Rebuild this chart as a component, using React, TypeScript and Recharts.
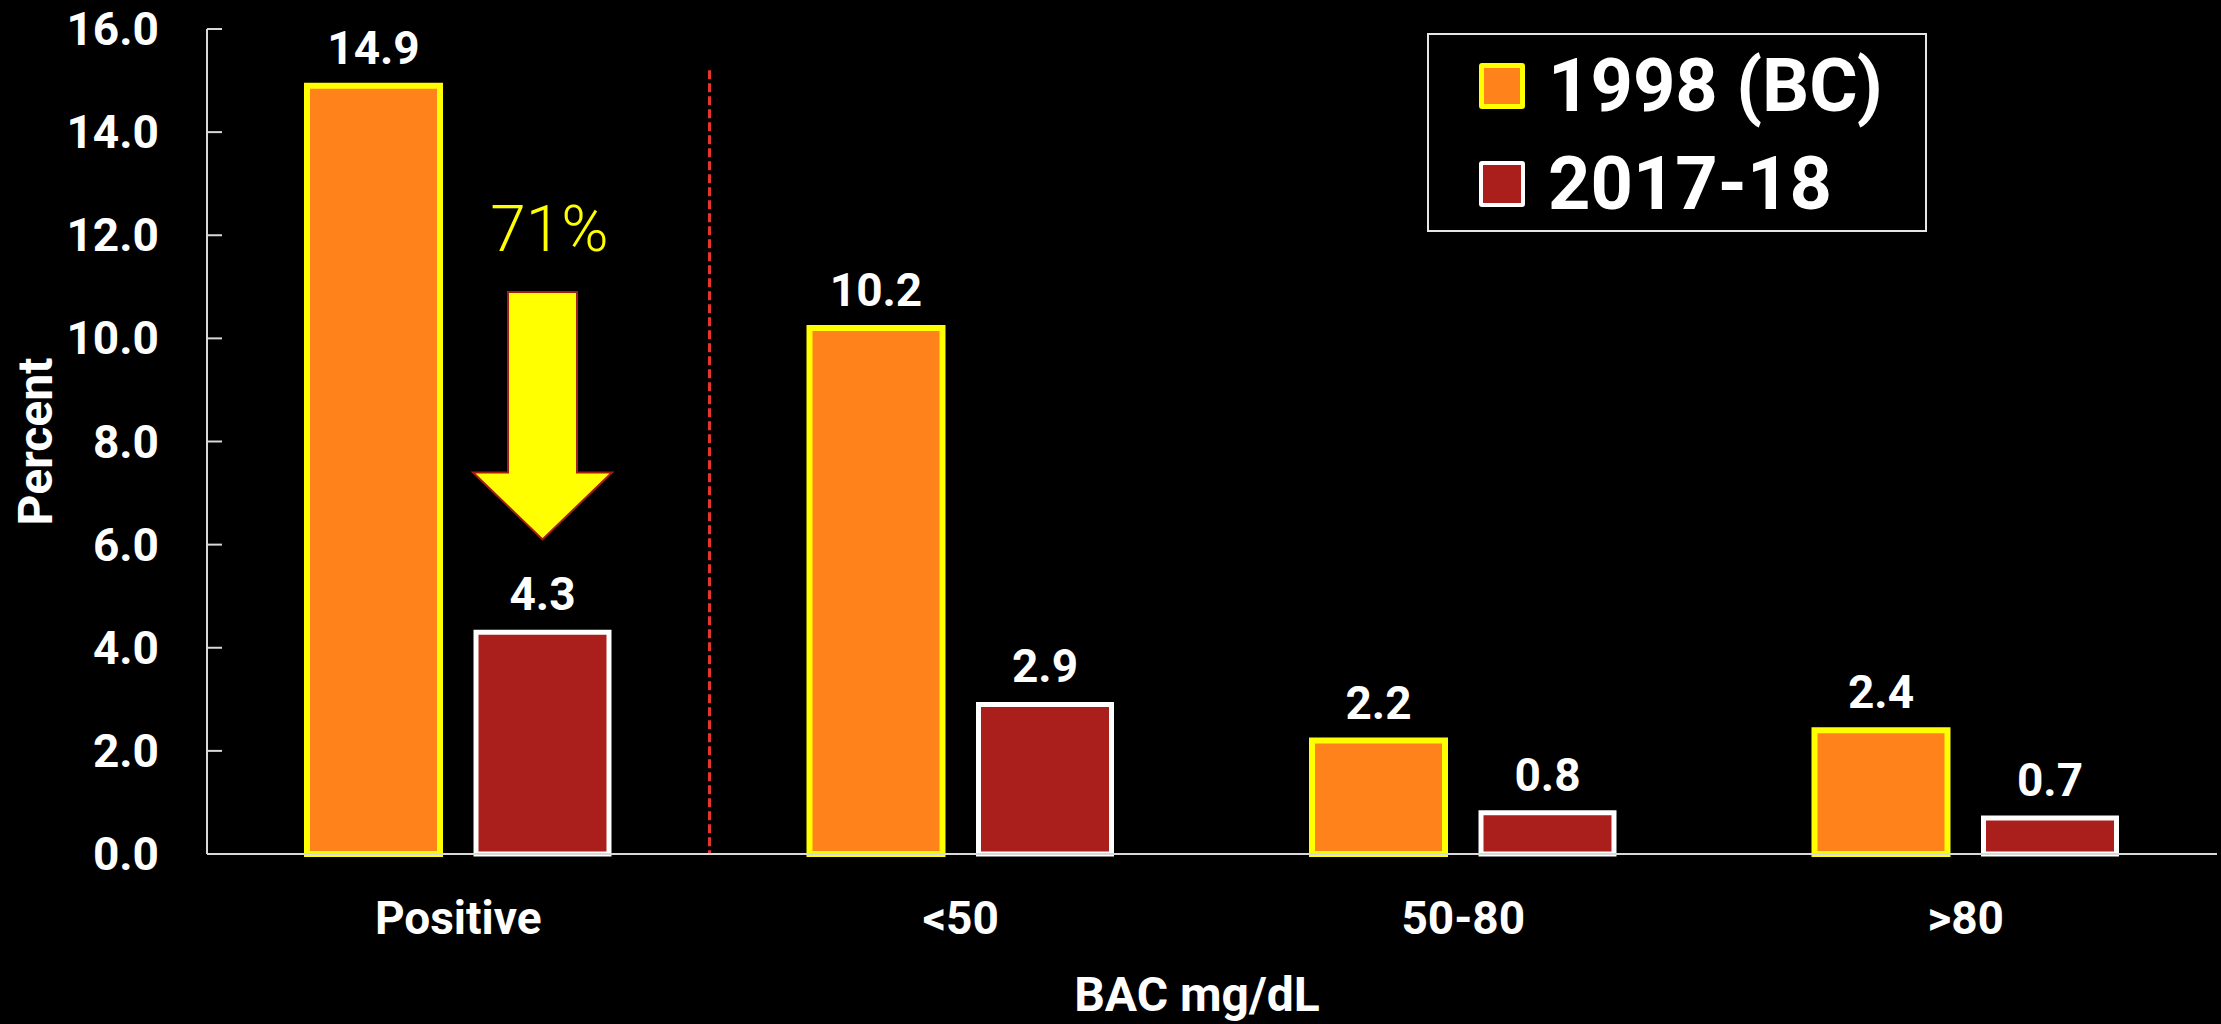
import React from 'react'
import { BarChart, Bar, XAxis, YAxis, LabelList, ReferenceLine, Legend, Label } from 'recharts'

const categories = ['Positive', '<50', '50-80', '>80']
const bc1998 = [14.9, 10.2, 2.2, 2.4]
const y2017 = [4.3, 2.9, 0.8, 0.7]
const yTicks = [0, 2, 4, 6, 8, 10, 12, 14, 16]
const seriesNames = ['1998 (BC)', '2017-18']
const dropLabel = '71%'
// arrow annotation levels, in percent units
const arrowLevels = { label: 11.7, top: 10.9, shoulder: 7.4, tip: 6.1 }
const dividerTop = 15.2

const data = categories.map((c, i) => ({ name: c, a: bc1998[i], b: y2017[i] }))

const FONT = 'Roboto, "DejaVu Sans", sans-serif'
const AXIS = '#d9d9d9'
const ORANGE = '#ff831a'
const YELLOW = '#ffff00'
const RED = '#aa1e1c'

const YTick = (props: any) => {
  const { x, y, payload } = props
  return (
    <g>
      <line x1={x + 48} x2={x + 63} y1={y} y2={y} stroke={AXIS} strokeWidth={2} />
      <text x={x} y={y} dy="0.35em" textAnchor="end" fill="#fff" fontSize={46} fontWeight={700} fontFamily={FONT}>
        {Number(payload.value).toFixed(1)}
      </text>
    </g>
  )
}

const DropArrow = (props: any) => {
  const vb = props.viewBox ?? props
  const { x, y, width, height } = vb
  const value = Number(props.value)
  if (props.index !== 0 && value !== y2017[0]) return null
  const perUnit = height / value
  const yAt = (v: number) => y + height - v * perUnit
  const cx = x + width / 2
  const top = yAt(arrowLevels.top)
  const sh = yAt(arrowLevels.shoulder)
  const tip = yAt(arrowLevels.tip)
  const pts = [
    [cx - 34.5, top], [cx + 34.5, top], [cx + 34.5, sh], [cx + 69.5, sh],
    [cx, tip], [cx - 69.5, sh], [cx - 34.5, sh],
  ].map(p => p.join(',')).join(' ')
  return (
    <g>
      <text x={cx + 7} y={yAt(arrowLevels.label)} textAnchor="middle" fill={YELLOW} fontSize={64} fontWeight={300} fontFamily={FONT}>
        {dropLabel}
      </text>
      <polygon points={pts} fill={YELLOW} stroke="#a01e14" strokeWidth={2} />
    </g>
  )
}

const LegendBox = () => (
  <div style={{ boxSizing: 'border-box', width: 500, height: 199, border: '2px solid #e6e6e6', paddingTop: 2, fontFamily: FONT }}>
    {seriesNames.map((n, i) => (
      <div key={n} style={{ display: 'flex', alignItems: 'center', height: 98 }}>
        <div style={{
          boxSizing: 'border-box', width: 46, height: 46, marginLeft: 50, marginRight: 23, borderRadius: 3,
          background: i === 0 ? ORANGE : RED, border: i === 0 ? `5px solid ${YELLOW}` : '4px solid #fff',
        }} />
        <span style={{ color: '#fff', fontSize: 74, fontWeight: 700, lineHeight: '98px', whiteSpace: 'nowrap' }}>{n}</span>
      </div>
    ))}
  </div>
)

export default function App() {
  return (
    <div style={{ position: 'absolute', left: 0, top: 0, width: 2221, height: 1024, background: '#000' }}>
      <BarChart width={2221} height={1024} data={data} margin={{ top: 29, right: 4, bottom: 0, left: 0 }} barSize={133} barGap={36}>
        <XAxis dataKey="name" height={170} axisLine={{ stroke: AXIS, strokeWidth: 2 }} tickLine={false} tickSize={0} tickMargin={47}
          tick={{ fill: '#fff', fontSize: 46, fontWeight: 700, fontFamily: FONT }}>
          <Label value="BAC mg/dL" position="insideBottom" offset={13} dx={-15} fill="#fff" fontSize={48} fontWeight={700} fontFamily={FONT} />
        </XAxis>
        <YAxis width={207} domain={[0, 16]} ticks={yTicks} interval={0} axisLine={{ stroke: AXIS, strokeWidth: 2 }} tickLine={false}
          tickSize={0} tickMargin={48} tick={<YTick />}>
          <Label value="Percent" position="center" angle={-90} dx={-69} fill="#fff" fontSize={48} fontWeight={700} fontFamily={FONT} />
        </YAxis>
        <ReferenceLine segment={[{ x: '<50', y: dividerTop }, { x: '<50', y: 0 }]} position="start"
          stroke="#e8352b" strokeWidth={3} strokeDasharray="9 4" />
        <Legend layout="vertical" align="center" verticalAlign="middle" content={<LegendBox />}
          wrapperStyle={{ left: 1427, top: 33, width: 500, height: 199 }} />
        <Bar dataKey="a" name={seriesNames[0]} fill={ORANGE} stroke={YELLOW} strokeWidth={6} isAnimationActive={false}>
          <LabelList dataKey="a" position="top" offset={22} fill="#fff" fontSize={46} fontWeight={700} fontFamily={FONT} formatter={(v: any) => Number(v).toFixed(1)} />
        </Bar>
        <Bar dataKey="b" name={seriesNames[1]} fill={RED} stroke="#fff" strokeWidth={5} isAnimationActive={false}>
          <LabelList dataKey="b" position="top" offset={22} fill="#fff" fontSize={46} fontWeight={700} fontFamily={FONT} formatter={(v: any) => Number(v).toFixed(1)} />
          <LabelList dataKey="b" content={<DropArrow />} />
        </Bar>
      </BarChart>
    </div>
  )
}
